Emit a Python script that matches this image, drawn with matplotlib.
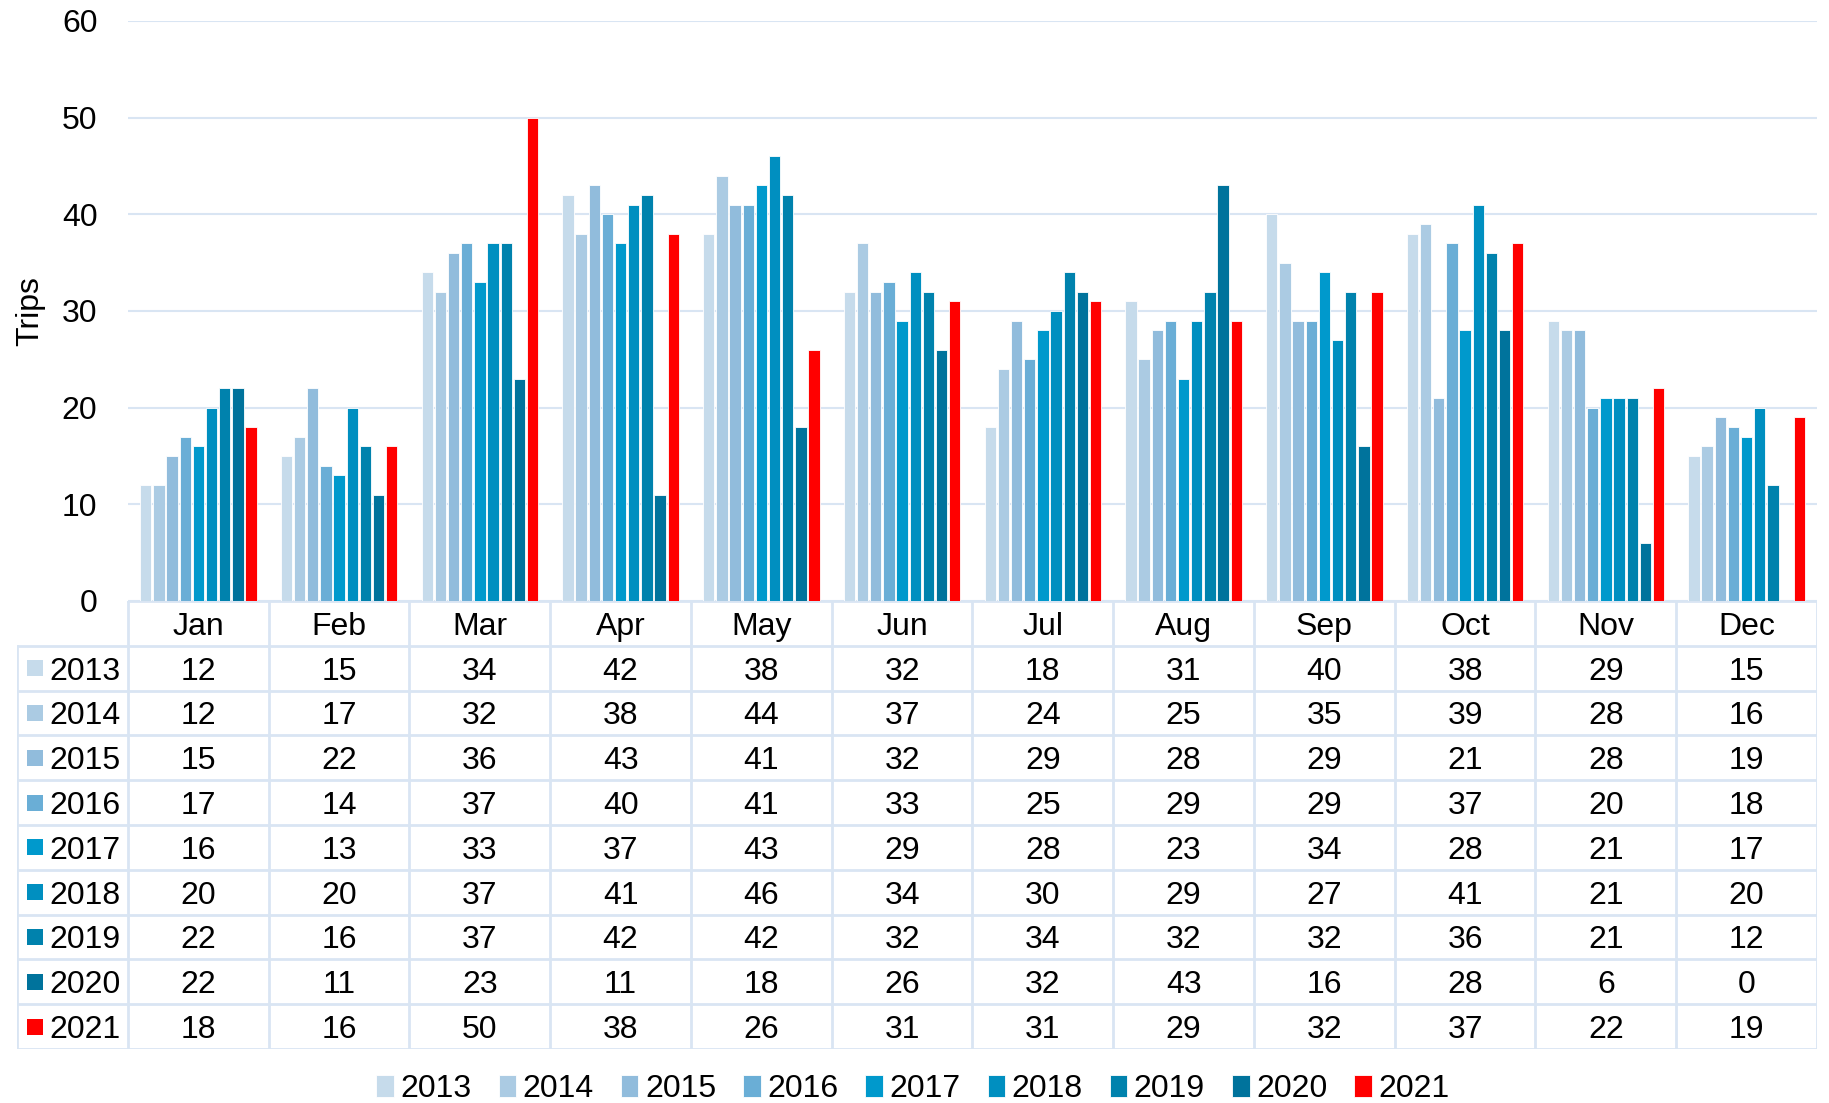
import matplotlib.pyplot as plt
import numpy as np
from matplotlib.patches import Rectangle

plt.rcParams['font.family'] = ['Liberation Sans', 'DejaVu Sans']

months = ["Jan", "Feb", "Mar", "Apr", "May", "Jun", "Jul", "Aug", "Sep", "Oct", "Nov", "Dec"]
years = ["2013", "2014", "2015", "2016", "2017", "2018", "2019", "2020", "2021"]

y2013 = [12, 15, 34, 42, 38, 32, 18, 31, 40, 38, 29, 15]
y2014 = [12, 17, 32, 38, 44, 37, 24, 25, 35, 39, 28, 16]
y2015 = [15, 22, 36, 43, 41, 32, 29, 28, 29, 21, 28, 19]
y2016 = [17, 14, 37, 40, 41, 33, 25, 29, 29, 37, 20, 18]
y2017 = [16, 13, 33, 37, 43, 29, 28, 23, 34, 28, 21, 17]
y2018 = [20, 20, 37, 41, 46, 34, 30, 29, 27, 41, 21, 20]
y2019 = [22, 16, 37, 42, 42, 32, 34, 32, 32, 36, 21, 12]
y2020 = [22, 11, 23, 11, 18, 26, 32, 43, 16, 28, 6, 0]
y2021 = [18, 16, 50, 38, 26, 31, 31, 29, 32, 37, 22, 19]
series = [y2013, y2014, y2015, y2016, y2017, y2018, y2019, y2020, y2021]

colors = ["#c6dbeb", "#abcbe3", "#91bcdc", "#6aaed6", "#0099cc",
          "#008fc0", "#0082ad", "#00739c", "#ff0000"]
grid_col = "#d9e5f3"
fs = 23

W, H = 1829, 1103
fig = plt.figure(figsize=(W / 100, H / 100), dpi=100)

# pixel layout
px_left, px_right = 128, 1817
px_top, px_base = 21, 601
tab_left, tab_bottom = 17, 1049

ax = fig.add_axes([px_left / W, 1 - px_base / H, (px_right - px_left) / W, (px_base - px_top) / H])
x = np.arange(len(months))
slot = 0.0935
for i, vals in enumerate(series):
    off = (i - 4) * slot
    ax.bar(x + 0.5 + off, vals, width=slot * 0.86, color=colors[i], edgecolor="white",
           linewidth=0.6, label=years[i], zorder=3)

ax.set_xlim(0, 12)
ax.set_ylim(0, 60)
ax.set_yticks(range(0, 61, 10))
ax.tick_params(axis="y", length=0, labelsize=fs, pad=22)
ax.set_xticks([])
ax.grid(axis="y", color=grid_col, linewidth=1.5, zorder=0)
for s in ax.spines.values():
    s.set_visible(False)
ax.set_ylabel("Trips", fontsize=fs)
ax.yaxis.set_label_coords(-0.049, 0.5)

# data table below the bars
cat_px = (px_right - px_left) / 12.0
lab_w = (px_left - tab_left) / cat_px
tax = fig.add_axes([tab_left / W, 1 - tab_bottom / H, (px_right - tab_left) / W, (tab_bottom - px_base) / H])
tax.set_xlim(-lab_w, 12)
tax.set_ylim(0, 10)
tax.axis("off")
lc = grid_col
lw = 2.0
for r in range(10):
    tax.plot([-lab_w, 12], [r, r], color=lc, lw=lw, solid_capstyle="butt")
tax.plot([0, 12], [10, 10], color=lc, lw=lw)
for c in range(13):
    tax.plot([c, c], [0, 10], color=lc, lw=lw)
tax.plot([-lab_w, -lab_w], [0, 9], color=lc, lw=lw)

for j, m in enumerate(months):
    tax.text(j + 0.5, 9.5, m, ha="center", va="center_baseline", fontsize=fs)
for i, vals in enumerate(series):
    yc = 8.5 - i
    tax.add_patch(Rectangle((-lab_w + 0.07, yc - 0.18), 0.115, 0.36, color=colors[i], lw=0))
    tax.text(-lab_w + 0.23, yc, years[i], ha="left", va="center_baseline", fontsize=fs)
    for j, v in enumerate(vals):
        tax.text(j + 0.5, yc, str(v), ha="center", va="center_baseline", fontsize=fs)

handles, labels = ax.get_legend_handles_labels()
fig.legend(handles, labels, loc="center", bbox_to_anchor=(913 / W, 1 - 1089 / H), ncol=9,
           frameon=False, fontsize=fs, handlelength=0.55, handleheight=0.7,
           handletextpad=0.2, columnspacing=0.85)

fig.savefig("out.png", dpi=100)
